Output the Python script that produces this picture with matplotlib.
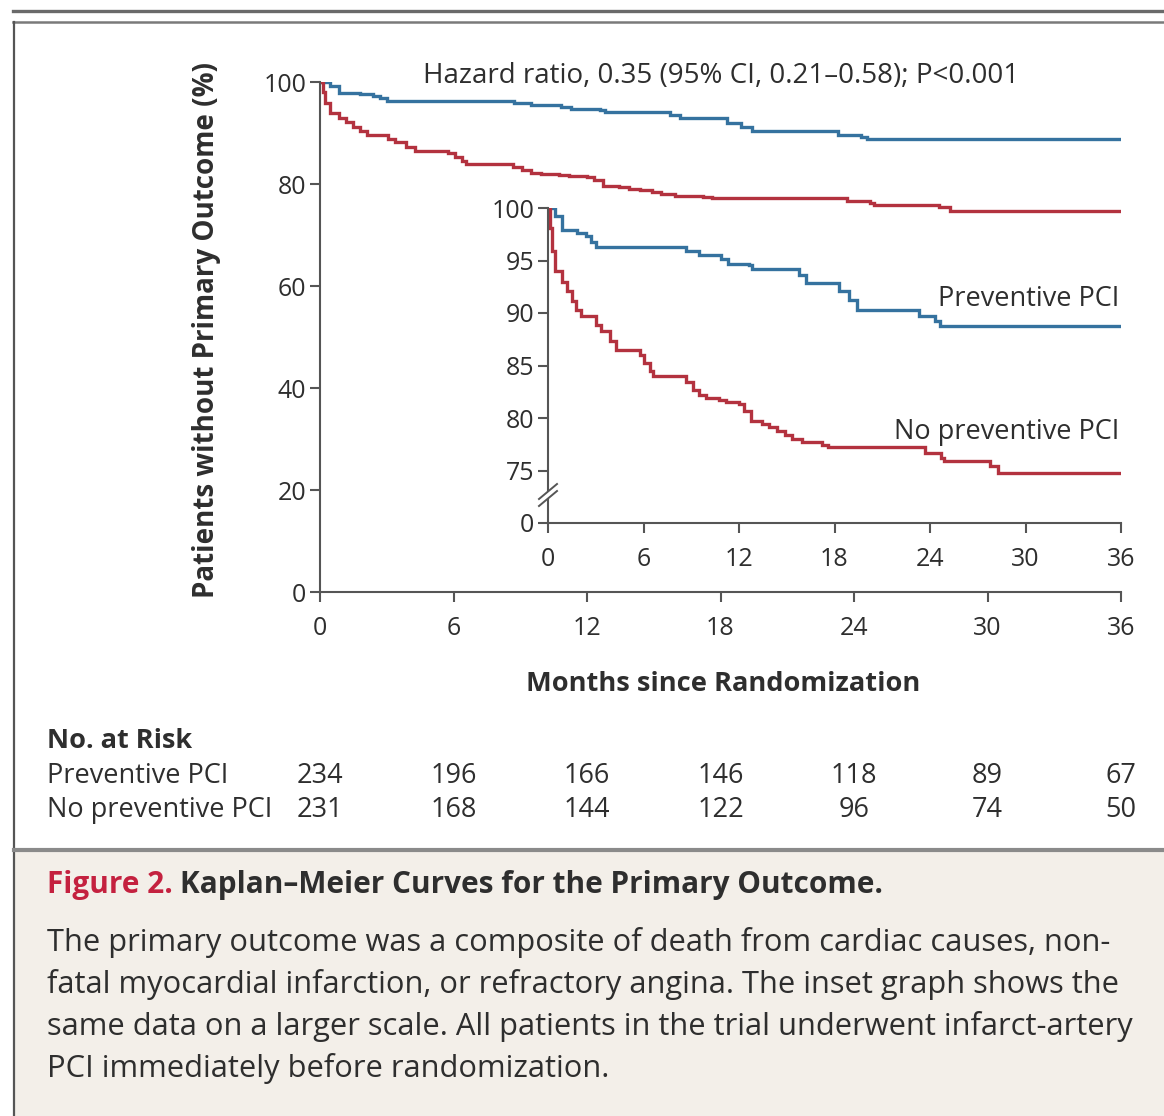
import matplotlib
matplotlib.use("Agg")
import matplotlib.pyplot as plt
from matplotlib.lines import Line2D
from matplotlib.patches import Rectangle, Polygon

# ---------------- data ----------------
months_prev = [0, 0.44, 0.85, 1.8, 2.4, 2.7, 3.0, 8.7, 9.5, 10.85, 11.3, 12.6, 12.8,
               15.75, 16.2, 18.3, 18.9, 19.4, 23.3, 24.3, 24.6, 36]
surv_prev = [100, 99.2, 97.9, 97.6, 97.3, 96.8, 96.3, 95.9, 95.5, 95.1, 94.7, 94.6, 94.2,
             93.6, 92.9, 92.05, 91.25, 90.3, 89.7, 89.2, 88.8, 88.8]

months_noprev = [0, 0.12, 0.23, 0.44, 0.85, 1.17, 1.48, 1.79, 2.1, 3.04, 3.35, 3.88, 4.29,
                 5.75, 6.06, 6.38, 6.58, 8.67, 9.08, 9.5, 9.92, 10.75, 11.17, 12.0, 12.3,
                 12.73, 13.46, 13.88, 14.4, 14.9, 15.33, 15.96, 17.2, 17.6, 23.7, 24.7,
                 24.9, 27.8, 28.3, 36]
surv_noprev = [100, 98.1, 95.9, 94.0, 93.0, 92.1, 91.1, 90.3, 89.7, 88.9, 88.3, 87.3, 86.5,
               86.0, 85.2, 84.5, 84.0, 83.4, 82.7, 82.2, 81.9, 81.7, 81.5, 81.3, 80.7,
               79.7, 79.4, 79.1, 78.8, 78.4, 78.0, 77.7, 77.4, 77.2, 76.7, 76.2,
               75.9, 75.4, 74.8, 74.8]

x_ticks = [0, 6, 12, 18, 24, 30, 36]
main_y_ticks = [0, 20, 40, 60, 80, 100]
inset_y_ticks = [75, 80, 85, 90, 95, 100]

risk_groups = ["Preventive PCI", "No preventive PCI"]
risk_prev = [234, 196, 166, 146, 118, 89, 67]
risk_noprev = [231, 168, 144, 122, 96, 74, 50]

hr_text = "Hazard ratio, 0.35 (95% CI, 0.21\u20130.58); P<0.001"
y_label = "Patients without Primary Outcome (%)"
x_label = "Months since Randomization"
cap_fig = "Figure 2."
cap_title = "Kaplan\u2013Meier Curves for the Primary Outcome."
cap_body = [
    "The primary outcome was a composite of death from cardiac causes, non-",
    "fatal myocardial infarction, or refractory angina. The inset graph shows the",
    "same data on a larger scale. All patients in the trial underwent infarct-artery",
    "PCI immediately before randomization.",
]

# ---------------- style ----------------
W, H = 1164, 1116
BLUE = "#35729f"
RED = "#b3323f"
AX = "#555555"
TXT = "#2e2e2e"
plt.rcParams["font.family"] = ["Open Sans", "DejaVu Sans"]

def fx(px):
    return px / W

def fy(py):
    return 1 - py / H

fig = plt.figure(figsize=(W / 100, H / 100), dpi=100)
fig.patch.set_facecolor("white")

# caption background & frame lines
fig.add_artist(Rectangle((fx(14), 0), 1 - fx(14), fy(851), transform=fig.transFigure,
                         facecolor="#f3efe9", edgecolor="none", zorder=0))
fig.add_artist(Line2D([fx(13), 1], [fy(11), fy(11)], transform=fig.transFigure,
                      color="#6a6a6a", lw=2.4))
fig.add_artist(Line2D([fx(13), 1], [fy(22), fy(22)], transform=fig.transFigure,
                      color="#7a7a7a", lw=1.8))
fig.add_artist(Line2D([fx(14), fx(14)], [fy(22), 0], transform=fig.transFigure,
                      color="#555555", lw=1.6))
fig.add_artist(Line2D([fx(14), 1], [fy(850), fy(850)], transform=fig.transFigure,
                      color="#8a8a8a", lw=3.0))

def style_axes(ax, yticks, ylim):
    for s in ["top", "right"]:
        ax.spines[s].set_visible(False)
    for s in ["left", "bottom"]:
        ax.spines[s].set_color(AX)
        ax.spines[s].set_linewidth(1.5)
    ax.set_xlim(0, 36)
    ax.set_ylim(*ylim)
    ax.set_xticks(x_ticks)
    ax.set_yticks(yticks)
    ax.tick_params(direction="out", length=7, width=1.5, color=AX,
                   labelsize=18, labelcolor=TXT, pad=3)
    ax.tick_params(axis="x", pad=10)
    ax.patch.set_alpha(0)

# ---------------- main axes ----------------
ax = fig.add_axes([fx(320), fy(592), fx(1121) - fx(320), fy(82) - fy(592)])
style_axes(ax, main_y_ticks, (0, 100))
ax.step(months_prev, surv_prev, where="post", color=BLUE, lw=2.4, solid_joinstyle="miter")
ax.step(months_noprev, surv_noprev, where="post", color=RED, lw=2.4, solid_joinstyle="miter")

fig.text(fx(721), fy(76), hr_text, ha="center", va="center", fontsize=20, color=TXT)
fig.text(fx(207), fy(330), y_label, ha="center", va="center", rotation=90,
         fontsize=20, fontweight="bold", color=TXT)
fig.text(fx(723), fy(684), x_label, ha="center", va="center",
         fontsize=19.6, fontweight="bold", color=TXT)

# ---------------- inset axes ----------------
axi = fig.add_axes([fx(548), fy(523), fx(1121) - fx(548), fy(208) - fy(523)])
style_axes(axi, [70] + inset_y_ticks, (70, 100))
axi.set_yticklabels(["0"] + [str(v) for v in inset_y_ticks])
axi.step(months_prev, surv_prev, where="post", color=BLUE, lw=2.4, solid_joinstyle="miter")
axi.step(months_noprev, surv_noprev, where="post", color=RED, lw=2.4, solid_joinstyle="miter")
axi.text(35.9, 91.3, "Preventive PCI", ha="right", va="center", fontsize=19.5, color=TXT)
axi.text(35.9, 78.7, "No preventive PCI", ha="right", va="center", fontsize=19.5, color=TXT)

# axis break marks on the inset y axis
bx, by = 548, 497
fig.add_artist(Polygon([(fx(bx - 8), fy(by + 9)), (fx(bx + 8), fy(by - 5)),
                        (fx(bx + 8), fy(by - 12)), (fx(bx - 8), fy(by + 2))],
                       closed=True, transform=fig.transFigure, facecolor="white",
                       edgecolor="none", zorder=5))
for off in (0, 7):
    fig.add_artist(Line2D([fx(bx - 9), fx(bx + 9)],
                          [fy(by + 9 - off), fy(by - 6 - off)],
                          transform=fig.transFigure, color=AX, lw=1.4, zorder=6))

# ---------------- number at risk ----------------
fig.text(fx(47), fy(741), "No. at Risk", ha="left", va="center", fontsize=19.5,
         fontweight="bold", color=TXT)
for row, (label, counts) in enumerate(zip(risk_groups, [risk_prev, risk_noprev])):
    ypx = 776 + row * 34
    fig.text(fx(47), fy(ypx), label, ha="left", va="center", fontsize=19.5, color=TXT)
    for m, n in zip(x_ticks, counts):
        xd = ax.transData.transform((m, 0))[0]
        fig.text(xd / W, fy(ypx), str(n), ha="center", va="center", fontsize=19.5, color=TXT)

# ---------------- caption ----------------
t1 = fig.text(fx(47), fy(885), cap_fig, ha="left", va="center", fontsize=21.4,
              fontweight="bold", color="#c4213f")
fig.canvas.draw()
bb = t1.get_window_extent(renderer=fig.canvas.get_renderer())
fig.text((bb.x1 + 7) / W, fy(885), cap_title, ha="left", va="center", fontsize=21.4,
         fontweight="bold", color="#2e2e2e")
for i, line in enumerate(cap_body):
    fig.text(fx(47), fy(943 + i * 42), line, ha="left", va="center", fontsize=22.2,
             color="#2e2e2e")

fig.savefig("out.png", dpi=100)
